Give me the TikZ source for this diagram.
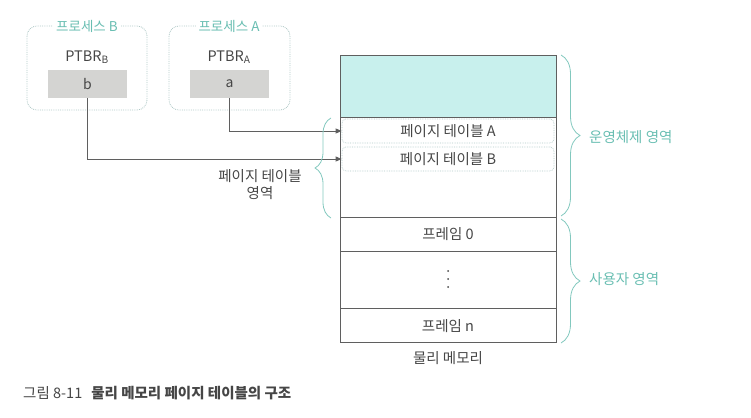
\documentclass[tikz,border=0pt]{standalone}
\usepackage{fontspec}
\setmainfont{Noto Sans CJK KR}
\usetikzlibrary{arrows.meta,decorations.pathreplacing}
\definecolor{tealfill}{RGB}{200,240,237}
\definecolor{tealtxt}{RGB}{105,190,178}
\definecolor{tealline}{RGB}{130,200,190}
\definecolor{dotc}{RGB}{175,200,198}
\definecolor{grayfill}{RGB}{212,212,210}
\definecolor{txt}{RGB}{70,70,70}
\definecolor{linec}{RGB}{95,95,95}
\tikzset{
  procbox/.style={draw=dotc, densely dotted, line width=0.8pt, rounded corners=10pt},
  proclabel/.style={fill=white, text=tealtxt, font=\fontsize{13.5}{15}\selectfont, inner sep=3pt},
  regbox/.style={fill=grayfill, minimum width=79pt, minimum height=28pt, inner sep=0pt, text=txt, font=\fontsize{14}{15}\selectfont},
  plain/.style={text=txt, font=\fontsize{14.5}{17}\selectfont, inner sep=1pt},
  ptbox/.style={draw=dotc, densely dotted, line width=0.7pt, rounded corners=4pt, minimum width=212pt, minimum height=24pt, inner sep=0pt, text=txt, font=\fontsize{14.5}{15}\selectfont},
  memline/.style={draw=linec, line width=0.6pt},
  arr/.style={draw=linec, line width=0.7pt, -{Triangle[length=6pt,width=5pt]}},
  brc/.style={draw=tealline, line width=0.8pt, decorate},
  bractxt/.style={text=tealtxt, font=\fontsize{14.5}{16}\selectfont, anchor=west, inner sep=0pt},
  dot/.style={circle, fill=txt, inner sep=0pt, minimum size=2pt}
}
\begin{document}
\begin{tikzpicture}[x=1pt,y=-1pt]
\useasboundingbox (0,0) rectangle (751,417);
% process boxes
\draw[procbox] (27,26) rectangle (147,110);
\node[proclabel] (plb) at (87,26) {프로세스 B};
\node[plain] (ptbrb) at (87,57) {PTBR\textsubscript{B}};
\node[regbox] (b) at (87.5,84) {b};
\draw[procbox] (169,26) rectangle (290,110);
\node[proclabel] (pla) at (229,26) {프로세스 A};
\node[plain] (ptbra) at (229,57) {PTBR\textsubscript{A}};
\node[regbox] (a) at (229.5,84) {a};
% memory
\fill[tealfill] (340,55) rectangle (556,117);
\node[ptbox] (pta) at (448,131) {페이지 테이블 A};
\node[ptbox] (ptb) at (448,159) {페이지 테이블 B};
\draw[memline] (340,55) rectangle (556,342);
\draw[memline] (340,117) -- (556,117);
\draw[memline] (340,217) -- (556,217);
\draw[memline] (340,251) -- (556,251);
\draw[memline] (340,308) -- (556,308);
\node[plain] (f0) at (448,234) {프레임 0};
\node[dot] (d1) at (448,271) {};
\node[dot] (d2) at (448,279) {};
\node[dot] (d3) at (448,287) {};
\node[plain] (fn) at (448,326) {프레임 n};
\node[plain] (mem) at (448,358) {물리 메모리};
% arrows
\draw[arr] (a.south) |- (pta.west);
\draw[arr] (b.south) |- (ptb.west);
% braces
\draw[brc, decoration={brace, amplitude=16pt}] (331,218) -- (331,118);
\node[plain, align=center] (ptarea) at (260,185) {페이지 테이블\\영역};
\draw[brc, decoration={brace, amplitude=19pt}] (561,55) -- (561,216);
\node[bractxt] (os) at (589,137) {운영체제 영역};
\draw[brc, decoration={brace, amplitude=19pt}] (561,219) -- (561,343);
\node[bractxt] (user) at (589,279) {사용자 영역};
% caption
\node[anchor=west, inner sep=0pt, text=txt, font=\fontsize{14.5}{16}\selectfont] (cap) at (23,393) {그림 8-11\hspace{9pt}\textbf{물리 메모리 페이지 테이블의 구조}};
\end{tikzpicture}
\end{document}
